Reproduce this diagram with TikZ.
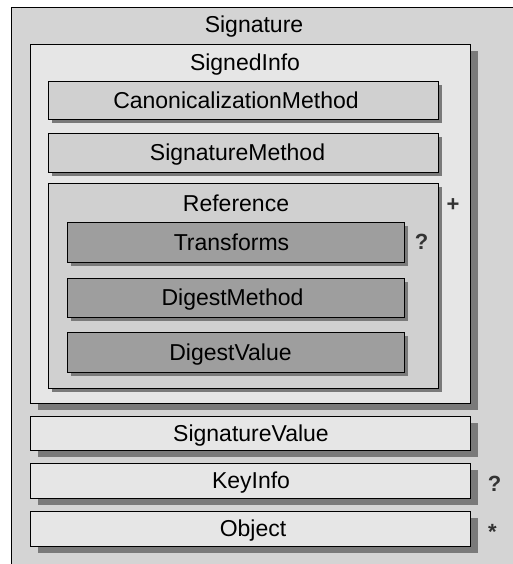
\documentclass[tikz,border=0pt]{standalone}
\usepackage{fontspec}
\setmainfont{Liberation Sans}
\usepackage{xcolor}
\usetikzlibrary{shadows}

\definecolor{outerfill}{HTML}{D4D4D4}
\definecolor{lightfill}{HTML}{E6E6E6}
\definecolor{midfill}{HTML}{D0D0D0}
\definecolor{darkfill}{HTML}{9E9E9E}
\definecolor{shadowgray}{HTML}{7A7A7A}
\definecolor{occurgray}{HTML}{333333}

\begin{document}
\begin{tikzpicture}[
  x=1pt, y=-1pt,
  box/.style={draw=black, line width=0.9pt},
  bigshadow/.style={drop shadow={shadow xshift=8pt, shadow yshift=-7pt,
    fill=shadowgray, opacity=1}},
  smallshadow/.style={drop shadow={shadow xshift=4pt, shadow yshift=-4pt,
    fill=shadowgray, opacity=1}},
  lbl/.style={font=\fontsize{23}{27}\selectfont, inner sep=0pt,
    text height=16.5pt, text depth=0pt},
  occurs/.style={lbl, font=\fontsize{22}{26}\selectfont\bfseries, text=occurgray}
]
  \useasboundingbox[fill=white] (0,0) rectangle (512,564);

  % Signature
  \draw[box, fill=outerfill] (11,7) rectangle (530,580);
  \node[lbl] (signature) at (254,24.5) {Signature};

  % SignedInfo
  \draw[box, fill=lightfill, bigshadow] (30,44) rectangle (470,403);
  \node[lbl] (signedinfo) at (245,62) {SignedInfo};

  \draw[box, fill=midfill, smallshadow] (48,81) rectangle (438,119);
  \node[lbl] (canon) at (236,100) {CanonicalizationMethod};

  \draw[box, fill=midfill, smallshadow] (48,133) rectangle (438,172);
  \node[lbl] (sigmethod) at (237.5,152) {SignatureMethod};

  % Reference
  \draw[box, fill=midfill, smallshadow] (48,183) rectangle (438,388);
  \node[lbl] (reference) at (236,203) {Reference};
  \node[occurs] (refplus) at (453,203) {+};

  \draw[box, fill=darkfill, smallshadow] (67,222) rectangle (404,262);
  \node[lbl] (transforms) at (231.5,242) {Transforms};
  \node[occurs] (transopt) at (421.5,241.5) {?};

  \draw[box, fill=darkfill, smallshadow] (67,278) rectangle (404,317);
  \node[lbl] (digestmethod) at (232.5,297.5) {DigestMethod};

  \draw[box, fill=darkfill, smallshadow] (67,332) rectangle (404,372);
  \node[lbl] (digestvalue) at (230.5,352) {DigestValue};

  % Rest of Signature
  \draw[box, fill=lightfill, bigshadow] (30,416) rectangle (470,450);
  \node[lbl] (sigvalue) at (251,433) {SignatureValue};

  \draw[box, fill=lightfill, bigshadow] (30,463) rectangle (470,498);
  \node[lbl] (keyinfo) at (251,480.5) {KeyInfo};
  \node[occurs] (keyopt) at (494.5,483.5) {?};

  \draw[box, fill=lightfill, bigshadow] (30,511) rectangle (470,546);
  \node[lbl] (object) at (253,528) {Object};
  \node[occurs] (objstar) at (492.5,531) {*};
\end{tikzpicture}
\end{document}
